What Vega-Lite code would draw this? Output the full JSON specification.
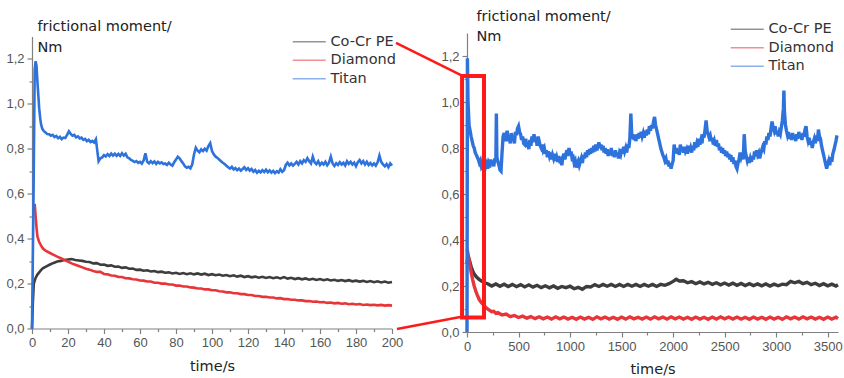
{
 "$schema": "https://vega.github.io/schema/vega-lite/v6.json",
 "background": "white",
 "padding": {"left": 5, "top": 8, "right": 2, "bottom": 4},
 "bounds": "flush",
 "center": true,
 "spacing": 75,
 "resolve": {"scale": {"color": "independent"}},
 "config": {
  "view": {"stroke": null},
  "axis": {"labelFont": "Liberation Sans", "labelFontSize": 13, "labelColor": "#555", "domainColor": "#808080", "domainWidth": 1.2, "tickColor": "#808080", "tickWidth": 1.2, "tickSize": 5, "labelPadding": 3, "grid": false, "titleFont": "DejaVu Sans", "titleFontSize": 14.5, "titleFontWeight": "normal", "titleColor": "#222", "labelFlush": false, "labelOverlap": false},
  "legend": {"labelFont": "DejaVu Sans", "labelFontSize": 14.5, "labelColor": "#333", "symbolType": "M-3,0H3", "symbolSize": 121, "symbolStrokeWidth": 1.5, "symbolOpacity": 0.55, "rowPadding": 3.5, "labelOffset": 14, "padding": 0}
 },
 "datasets": {
  "left": [
   {"s":"Co-Cr PE","t":0,"v":0},{"s":"Co-Cr PE","t":0.5,"v":0.12},{"s":"Co-Cr PE","t":1,"v":0.2},{"s":"Co-Cr PE","t":2,"v":0.225},{"s":"Co-Cr PE","t":3,"v":0.24},{"s":"Co-Cr PE","t":4,"v":0.25},{"s":"Co-Cr PE","t":5,"v":0.26},{"s":"Co-Cr PE","t":6,"v":0.268},{"s":"Co-Cr PE","t":8,"v":0.277},{"s":"Co-Cr PE","t":10,"v":0.285},{"s":"Co-Cr PE","t":12,"v":0.292},{"s":"Co-Cr PE","t":14,"v":0.298},{"s":"Co-Cr PE","t":16,"v":0.301},{"s":"Co-Cr PE","t":18,"v":0.305},{"s":"Co-Cr PE","t":20,"v":0.307},{"s":"Co-Cr PE","t":22,"v":0.309},{"s":"Co-Cr PE","t":24,"v":0.305},{"s":"Co-Cr PE","t":26,"v":0.303},{"s":"Co-Cr PE","t":28,"v":0.301},{"s":"Co-Cr PE","t":30,"v":0.297},{"s":"Co-Cr PE","t":32,"v":0.296},{"s":"Co-Cr PE","t":34,"v":0.29},{"s":"Co-Cr PE","t":36,"v":0.291},{"s":"Co-Cr PE","t":38,"v":0.284},{"s":"Co-Cr PE","t":40,"v":0.285},{"s":"Co-Cr PE","t":42,"v":0.279},{"s":"Co-Cr PE","t":44,"v":0.281},{"s":"Co-Cr PE","t":46,"v":0.275},{"s":"Co-Cr PE","t":48,"v":0.276},{"s":"Co-Cr PE","t":50,"v":0.27},{"s":"Co-Cr PE","t":52,"v":0.272},{"s":"Co-Cr PE","t":54,"v":0.266},{"s":"Co-Cr PE","t":56,"v":0.267},{"s":"Co-Cr PE","t":58,"v":0.261},{"s":"Co-Cr PE","t":60,"v":0.262},{"s":"Co-Cr PE","t":62,"v":0.257},{"s":"Co-Cr PE","t":64,"v":0.259},{"s":"Co-Cr PE","t":66,"v":0.254},{"s":"Co-Cr PE","t":68,"v":0.256},{"s":"Co-Cr PE","t":70,"v":0.251},{"s":"Co-Cr PE","t":72,"v":0.253},{"s":"Co-Cr PE","t":74,"v":0.248},{"s":"Co-Cr PE","t":76,"v":0.25},{"s":"Co-Cr PE","t":78,"v":0.245},{"s":"Co-Cr PE","t":80,"v":0.248},{"s":"Co-Cr PE","t":82,"v":0.243},{"s":"Co-Cr PE","t":84,"v":0.247},{"s":"Co-Cr PE","t":86,"v":0.242},{"s":"Co-Cr PE","t":88,"v":0.246},{"s":"Co-Cr PE","t":90,"v":0.241},{"s":"Co-Cr PE","t":92,"v":0.245},{"s":"Co-Cr PE","t":94,"v":0.24},{"s":"Co-Cr PE","t":96,"v":0.244},{"s":"Co-Cr PE","t":98,"v":0.238},{"s":"Co-Cr PE","t":100,"v":0.242},{"s":"Co-Cr PE","t":102,"v":0.237},{"s":"Co-Cr PE","t":104,"v":0.24},{"s":"Co-Cr PE","t":106,"v":0.235},{"s":"Co-Cr PE","t":108,"v":0.238},{"s":"Co-Cr PE","t":110,"v":0.233},{"s":"Co-Cr PE","t":112,"v":0.237},{"s":"Co-Cr PE","t":114,"v":0.231},{"s":"Co-Cr PE","t":116,"v":0.235},{"s":"Co-Cr PE","t":118,"v":0.229},{"s":"Co-Cr PE","t":120,"v":0.233},{"s":"Co-Cr PE","t":122,"v":0.228},{"s":"Co-Cr PE","t":124,"v":0.231},{"s":"Co-Cr PE","t":126,"v":0.226},{"s":"Co-Cr PE","t":128,"v":0.23},{"s":"Co-Cr PE","t":130,"v":0.225},{"s":"Co-Cr PE","t":132,"v":0.229},{"s":"Co-Cr PE","t":134,"v":0.224},{"s":"Co-Cr PE","t":136,"v":0.228},{"s":"Co-Cr PE","t":138,"v":0.223},{"s":"Co-Cr PE","t":140,"v":0.229},{"s":"Co-Cr PE","t":142,"v":0.222},{"s":"Co-Cr PE","t":144,"v":0.226},{"s":"Co-Cr PE","t":146,"v":0.22},{"s":"Co-Cr PE","t":148,"v":0.224},{"s":"Co-Cr PE","t":150,"v":0.219},{"s":"Co-Cr PE","t":152,"v":0.223},{"s":"Co-Cr PE","t":154,"v":0.217},{"s":"Co-Cr PE","t":156,"v":0.221},{"s":"Co-Cr PE","t":158,"v":0.216},{"s":"Co-Cr PE","t":160,"v":0.22},{"s":"Co-Cr PE","t":162,"v":0.215},{"s":"Co-Cr PE","t":164,"v":0.219},{"s":"Co-Cr PE","t":166,"v":0.214},{"s":"Co-Cr PE","t":168,"v":0.217},{"s":"Co-Cr PE","t":170,"v":0.212},{"s":"Co-Cr PE","t":172,"v":0.216},{"s":"Co-Cr PE","t":174,"v":0.211},{"s":"Co-Cr PE","t":176,"v":0.215},{"s":"Co-Cr PE","t":178,"v":0.21},{"s":"Co-Cr PE","t":180,"v":0.213},{"s":"Co-Cr PE","t":182,"v":0.209},{"s":"Co-Cr PE","t":184,"v":0.212},{"s":"Co-Cr PE","t":186,"v":0.207},{"s":"Co-Cr PE","t":188,"v":0.211},{"s":"Co-Cr PE","t":190,"v":0.206},{"s":"Co-Cr PE","t":192,"v":0.21},{"s":"Co-Cr PE","t":194,"v":0.205},{"s":"Co-Cr PE","t":196,"v":0.209},{"s":"Co-Cr PE","t":198,"v":0.204},{"s":"Co-Cr PE","t":200,"v":0.207},
   {"s":"Diamond","t":1.5,"v":0.555},{"s":"Diamond","t":2,"v":0.5},{"s":"Diamond","t":2.5,"v":0.45},{"s":"Diamond","t":3,"v":0.41},{"s":"Diamond","t":4,"v":0.385},{"s":"Diamond","t":5,"v":0.37},{"s":"Diamond","t":6,"v":0.357},{"s":"Diamond","t":7,"v":0.35},{"s":"Diamond","t":8,"v":0.344},{"s":"Diamond","t":10,"v":0.336},{"s":"Diamond","t":12,"v":0.328},{"s":"Diamond","t":14,"v":0.32},{"s":"Diamond","t":16,"v":0.313},{"s":"Diamond","t":18,"v":0.305},{"s":"Diamond","t":20,"v":0.298},{"s":"Diamond","t":22,"v":0.29},{"s":"Diamond","t":24,"v":0.284},{"s":"Diamond","t":26,"v":0.278},{"s":"Diamond","t":28,"v":0.272},{"s":"Diamond","t":30,"v":0.266},{"s":"Diamond","t":32,"v":0.262},{"s":"Diamond","t":34,"v":0.256},{"s":"Diamond","t":36,"v":0.252},{"s":"Diamond","t":38,"v":0.252},{"s":"Diamond","t":40,"v":0.243},{"s":"Diamond","t":42,"v":0.241},{"s":"Diamond","t":44,"v":0.236},{"s":"Diamond","t":46,"v":0.235},{"s":"Diamond","t":48,"v":0.23},{"s":"Diamond","t":50,"v":0.229},{"s":"Diamond","t":52,"v":0.224},{"s":"Diamond","t":54,"v":0.223},{"s":"Diamond","t":56,"v":0.219},{"s":"Diamond","t":58,"v":0.218},{"s":"Diamond","t":60,"v":0.214},{"s":"Diamond","t":62,"v":0.213},{"s":"Diamond","t":64,"v":0.209},{"s":"Diamond","t":66,"v":0.209},{"s":"Diamond","t":68,"v":0.204},{"s":"Diamond","t":70,"v":0.204},{"s":"Diamond","t":72,"v":0.2},{"s":"Diamond","t":74,"v":0.2},{"s":"Diamond","t":76,"v":0.196},{"s":"Diamond","t":78,"v":0.196},{"s":"Diamond","t":80,"v":0.191},{"s":"Diamond","t":82,"v":0.191},{"s":"Diamond","t":84,"v":0.187},{"s":"Diamond","t":86,"v":0.187},{"s":"Diamond","t":88,"v":0.183},{"s":"Diamond","t":90,"v":0.182},{"s":"Diamond","t":92,"v":0.178},{"s":"Diamond","t":94,"v":0.178},{"s":"Diamond","t":96,"v":0.174},{"s":"Diamond","t":98,"v":0.174},{"s":"Diamond","t":100,"v":0.17},{"s":"Diamond","t":102,"v":0.17},{"s":"Diamond","t":104,"v":0.166},{"s":"Diamond","t":106,"v":0.165},{"s":"Diamond","t":108,"v":0.161},{"s":"Diamond","t":110,"v":0.161},{"s":"Diamond","t":112,"v":0.157},{"s":"Diamond","t":114,"v":0.157},{"s":"Diamond","t":116,"v":0.153},{"s":"Diamond","t":118,"v":0.153},{"s":"Diamond","t":120,"v":0.149},{"s":"Diamond","t":122,"v":0.149},{"s":"Diamond","t":124,"v":0.145},{"s":"Diamond","t":126,"v":0.145},{"s":"Diamond","t":128,"v":0.141},{"s":"Diamond","t":130,"v":0.141},{"s":"Diamond","t":132,"v":0.138},{"s":"Diamond","t":134,"v":0.138},{"s":"Diamond","t":136,"v":0.134},{"s":"Diamond","t":138,"v":0.135},{"s":"Diamond","t":140,"v":0.131},{"s":"Diamond","t":142,"v":0.131},{"s":"Diamond","t":144,"v":0.128},{"s":"Diamond","t":146,"v":0.128},{"s":"Diamond","t":148,"v":0.125},{"s":"Diamond","t":150,"v":0.125},{"s":"Diamond","t":152,"v":0.122},{"s":"Diamond","t":154,"v":0.122},{"s":"Diamond","t":156,"v":0.119},{"s":"Diamond","t":158,"v":0.12},{"s":"Diamond","t":160,"v":0.117},{"s":"Diamond","t":162,"v":0.118},{"s":"Diamond","t":164,"v":0.114},{"s":"Diamond","t":166,"v":0.116},{"s":"Diamond","t":168,"v":0.112},{"s":"Diamond","t":170,"v":0.114},{"s":"Diamond","t":172,"v":0.11},{"s":"Diamond","t":174,"v":0.112},{"s":"Diamond","t":176,"v":0.108},{"s":"Diamond","t":178,"v":0.11},{"s":"Diamond","t":180,"v":0.107},{"s":"Diamond","t":182,"v":0.109},{"s":"Diamond","t":184,"v":0.105},{"s":"Diamond","t":186,"v":0.107},{"s":"Diamond","t":188,"v":0.104},{"s":"Diamond","t":190,"v":0.106},{"s":"Diamond","t":192,"v":0.103},{"s":"Diamond","t":194,"v":0.105},{"s":"Diamond","t":196,"v":0.102},{"s":"Diamond","t":198,"v":0.104},{"s":"Diamond","t":200,"v":0.102},
   {"s":"Titan","t":0,"v":0},{"s":"Titan","t":0.8,"v":0.55},{"s":"Titan","t":1.5,"v":1.15},{"s":"Titan","t":2,"v":1.19},{"s":"Titan","t":2.5,"v":1.17},{"s":"Titan","t":3,"v":1.1},{"s":"Titan","t":3.5,"v":1.04},{"s":"Titan","t":4,"v":0.98},{"s":"Titan","t":4.5,"v":0.94},{"s":"Titan","t":5,"v":0.91},{"s":"Titan","t":5.7,"v":0.89},{"s":"Titan","t":6.5,"v":0.88},{"s":"Titan","t":7.5,"v":0.872},{"s":"Titan","t":8.5,"v":0.866},{"s":"Titan","t":9.5,"v":0.865},{"s":"Titan","t":10.5,"v":0.858},{"s":"Titan","t":11.5,"v":0.862},{"s":"Titan","t":12.5,"v":0.852},{"s":"Titan","t":13.5,"v":0.857},{"s":"Titan","t":14.5,"v":0.847},{"s":"Titan","t":15.5,"v":0.853},{"s":"Titan","t":16.5,"v":0.843},{"s":"Titan","t":17.5,"v":0.85},{"s":"Titan","t":18.5,"v":0.848},{"s":"Titan","t":19.5,"v":0.862},{"s":"Titan","t":20.5,"v":0.878},{"s":"Titan","t":21.5,"v":0.866},{"s":"Titan","t":22.5,"v":0.858},{"s":"Titan","t":23.5,"v":0.862},{"s":"Titan","t":24.5,"v":0.851},{"s":"Titan","t":25.5,"v":0.855},{"s":"Titan","t":26.5,"v":0.846},{"s":"Titan","t":27.5,"v":0.85},{"s":"Titan","t":28.5,"v":0.84},{"s":"Titan","t":29.5,"v":0.844},{"s":"Titan","t":30.5,"v":0.834},{"s":"Titan","t":31.5,"v":0.84},{"s":"Titan","t":32.5,"v":0.83},{"s":"Titan","t":33.5,"v":0.835},{"s":"Titan","t":34.5,"v":0.828},{"s":"Titan","t":35.5,"v":0.842},{"s":"Titan","t":36.3,"v":0.79},{"s":"Titan","t":37,"v":0.745},{"s":"Titan","t":38,"v":0.758},{"s":"Titan","t":39,"v":0.762},{"s":"Titan","t":40,"v":0.772},{"s":"Titan","t":41,"v":0.766},{"s":"Titan","t":42,"v":0.776},{"s":"Titan","t":43,"v":0.768},{"s":"Titan","t":44,"v":0.779},{"s":"Titan","t":45,"v":0.77},{"s":"Titan","t":46,"v":0.778},{"s":"Titan","t":47,"v":0.769},{"s":"Titan","t":48,"v":0.777},{"s":"Titan","t":49,"v":0.768},{"s":"Titan","t":50,"v":0.78},{"s":"Titan","t":51,"v":0.77},{"s":"Titan","t":52,"v":0.778},{"s":"Titan","t":53,"v":0.762},{"s":"Titan","t":54,"v":0.758},{"s":"Titan","t":55,"v":0.75},{"s":"Titan","t":56,"v":0.746},{"s":"Titan","t":57,"v":0.741},{"s":"Titan","t":58,"v":0.745},{"s":"Titan","t":59,"v":0.737},{"s":"Titan","t":60,"v":0.742},{"s":"Titan","t":61,"v":0.734},{"s":"Titan","t":62,"v":0.748},{"s":"Titan","t":63,"v":0.78},{"s":"Titan","t":64,"v":0.742},{"s":"Titan","t":65,"v":0.735},{"s":"Titan","t":66,"v":0.745},{"s":"Titan","t":67,"v":0.736},{"s":"Titan","t":68,"v":0.744},{"s":"Titan","t":69,"v":0.733},{"s":"Titan","t":70,"v":0.742},{"s":"Titan","t":71,"v":0.735},{"s":"Titan","t":72,"v":0.74},{"s":"Titan","t":73,"v":0.732},{"s":"Titan","t":74,"v":0.735},{"s":"Titan","t":75,"v":0.728},{"s":"Titan","t":76,"v":0.738},{"s":"Titan","t":77,"v":0.73},{"s":"Titan","t":78,"v":0.725},{"s":"Titan","t":79,"v":0.74},{"s":"Titan","t":80,"v":0.752},{"s":"Titan","t":81,"v":0.765},{"s":"Titan","t":82,"v":0.758},{"s":"Titan","t":83,"v":0.745},{"s":"Titan","t":84,"v":0.735},{"s":"Titan","t":85,"v":0.722},{"s":"Titan","t":86,"v":0.716},{"s":"Titan","t":87,"v":0.72},{"s":"Titan","t":88,"v":0.713},{"s":"Titan","t":89,"v":0.73},{"s":"Titan","t":90,"v":0.775},{"s":"Titan","t":91,"v":0.805},{"s":"Titan","t":92,"v":0.792},{"s":"Titan","t":93,"v":0.785},{"s":"Titan","t":94,"v":0.798},{"s":"Titan","t":95,"v":0.79},{"s":"Titan","t":96,"v":0.8},{"s":"Titan","t":97,"v":0.792},{"s":"Titan","t":98,"v":0.812},{"s":"Titan","t":99,"v":0.825},{"s":"Titan","t":100,"v":0.79},{"s":"Titan","t":101,"v":0.775},{"s":"Titan","t":102,"v":0.765},{"s":"Titan","t":103,"v":0.76},{"s":"Titan","t":104,"v":0.752},{"s":"Titan","t":105,"v":0.745},{"s":"Titan","t":106,"v":0.738},{"s":"Titan","t":107,"v":0.732},{"s":"Titan","t":108,"v":0.725},{"s":"Titan","t":109,"v":0.718},{"s":"Titan","t":110,"v":0.712},{"s":"Titan","t":111,"v":0.72},{"s":"Titan","t":112,"v":0.708},{"s":"Titan","t":113,"v":0.714},{"s":"Titan","t":114,"v":0.705},{"s":"Titan","t":115,"v":0.712},{"s":"Titan","t":116,"v":0.703},{"s":"Titan","t":117,"v":0.71},{"s":"Titan","t":118,"v":0.718},{"s":"Titan","t":119,"v":0.706},{"s":"Titan","t":120,"v":0.714},{"s":"Titan","t":121,"v":0.703},{"s":"Titan","t":122,"v":0.71},{"s":"Titan","t":123,"v":0.698},{"s":"Titan","t":124,"v":0.706},{"s":"Titan","t":125,"v":0.694},{"s":"Titan","t":126,"v":0.702},{"s":"Titan","t":127,"v":0.695},{"s":"Titan","t":128,"v":0.705},{"s":"Titan","t":129,"v":0.697},{"s":"Titan","t":130,"v":0.707},{"s":"Titan","t":131,"v":0.696},{"s":"Titan","t":132,"v":0.704},{"s":"Titan","t":133,"v":0.694},{"s":"Titan","t":134,"v":0.702},{"s":"Titan","t":135,"v":0.692},{"s":"Titan","t":136,"v":0.7},{"s":"Titan","t":137,"v":0.694},{"s":"Titan","t":138,"v":0.709},{"s":"Titan","t":139,"v":0.698},{"s":"Titan","t":140,"v":0.705},{"s":"Titan","t":141,"v":0.728},{"s":"Titan","t":142,"v":0.738},{"s":"Titan","t":143,"v":0.726},{"s":"Titan","t":144,"v":0.735},{"s":"Titan","t":145,"v":0.725},{"s":"Titan","t":146,"v":0.733},{"s":"Titan","t":147,"v":0.742},{"s":"Titan","t":148,"v":0.73},{"s":"Titan","t":149,"v":0.745},{"s":"Titan","t":150,"v":0.735},{"s":"Titan","t":151,"v":0.75},{"s":"Titan","t":152,"v":0.742},{"s":"Titan","t":153,"v":0.758},{"s":"Titan","t":154,"v":0.745},{"s":"Titan","t":155,"v":0.735},{"s":"Titan","t":156,"v":0.765},{"s":"Titan","t":157,"v":0.74},{"s":"Titan","t":158,"v":0.732},{"s":"Titan","t":159,"v":0.745},{"s":"Titan","t":160,"v":0.728},{"s":"Titan","t":161,"v":0.738},{"s":"Titan","t":162,"v":0.73},{"s":"Titan","t":163,"v":0.742},{"s":"Titan","t":164,"v":0.727},{"s":"Titan","t":165,"v":0.738},{"s":"Titan","t":166,"v":0.765},{"s":"Titan","t":167,"v":0.735},{"s":"Titan","t":168,"v":0.724},{"s":"Titan","t":169,"v":0.736},{"s":"Titan","t":170,"v":0.728},{"s":"Titan","t":171,"v":0.74},{"s":"Titan","t":172,"v":0.73},{"s":"Titan","t":173,"v":0.738},{"s":"Titan","t":174,"v":0.726},{"s":"Titan","t":175,"v":0.745},{"s":"Titan","t":176,"v":0.733},{"s":"Titan","t":177,"v":0.742},{"s":"Titan","t":178,"v":0.73},{"s":"Titan","t":179,"v":0.738},{"s":"Titan","t":180,"v":0.722},{"s":"Titan","t":181,"v":0.74},{"s":"Titan","t":182,"v":0.75},{"s":"Titan","t":183,"v":0.735},{"s":"Titan","t":184,"v":0.745},{"s":"Titan","t":185,"v":0.73},{"s":"Titan","t":186,"v":0.742},{"s":"Titan","t":187,"v":0.728},{"s":"Titan","t":188,"v":0.737},{"s":"Titan","t":189,"v":0.726},{"s":"Titan","t":190,"v":0.735},{"s":"Titan","t":191,"v":0.725},{"s":"Titan","t":192,"v":0.74},{"s":"Titan","t":193,"v":0.77},{"s":"Titan","t":194,"v":0.742},{"s":"Titan","t":195,"v":0.73},{"s":"Titan","t":196,"v":0.722},{"s":"Titan","t":197,"v":0.732},{"s":"Titan","t":198,"v":0.718},{"s":"Titan","t":199,"v":0.735},{"s":"Titan","t":200,"v":0.725}
  ],
  "right": [
   {"s":"Co-Cr PE","t":0,"v":0.3},{"s":"Co-Cr PE","t":10,"v":0.33},{"s":"Co-Cr PE","t":25,"v":0.31},{"s":"Co-Cr PE","t":40,"v":0.285},{"s":"Co-Cr PE","t":55,"v":0.265},{"s":"Co-Cr PE","t":70,"v":0.252},{"s":"Co-Cr PE","t":85,"v":0.243},{"s":"Co-Cr PE","t":100,"v":0.236},{"s":"Co-Cr PE","t":120,"v":0.228},{"s":"Co-Cr PE","t":140,"v":0.222},{"s":"Co-Cr PE","t":160,"v":0.217},{"s":"Co-Cr PE","t":180,"v":0.213},{"s":"Co-Cr PE","t":200,"v":0.21},{"s":"Co-Cr PE","t":240,"v":0.2},{"s":"Co-Cr PE","t":280,"v":0.209},{"s":"Co-Cr PE","t":320,"v":0.199},{"s":"Co-Cr PE","t":360,"v":0.208},{"s":"Co-Cr PE","t":400,"v":0.198},{"s":"Co-Cr PE","t":440,"v":0.207},{"s":"Co-Cr PE","t":480,"v":0.197},{"s":"Co-Cr PE","t":520,"v":0.206},{"s":"Co-Cr PE","t":560,"v":0.196},{"s":"Co-Cr PE","t":600,"v":0.205},{"s":"Co-Cr PE","t":640,"v":0.195},{"s":"Co-Cr PE","t":680,"v":0.203},{"s":"Co-Cr PE","t":720,"v":0.193},{"s":"Co-Cr PE","t":760,"v":0.201},{"s":"Co-Cr PE","t":800,"v":0.192},{"s":"Co-Cr PE","t":840,"v":0.2},{"s":"Co-Cr PE","t":880,"v":0.19},{"s":"Co-Cr PE","t":920,"v":0.198},{"s":"Co-Cr PE","t":960,"v":0.193},{"s":"Co-Cr PE","t":1000,"v":0.199},{"s":"Co-Cr PE","t":1040,"v":0.188},{"s":"Co-Cr PE","t":1080,"v":0.194},{"s":"Co-Cr PE","t":1120,"v":0.186},{"s":"Co-Cr PE","t":1160,"v":0.198},{"s":"Co-Cr PE","t":1200,"v":0.196},{"s":"Co-Cr PE","t":1240,"v":0.206},{"s":"Co-Cr PE","t":1280,"v":0.198},{"s":"Co-Cr PE","t":1320,"v":0.207},{"s":"Co-Cr PE","t":1360,"v":0.199},{"s":"Co-Cr PE","t":1400,"v":0.207},{"s":"Co-Cr PE","t":1440,"v":0.198},{"s":"Co-Cr PE","t":1480,"v":0.207},{"s":"Co-Cr PE","t":1520,"v":0.198},{"s":"Co-Cr PE","t":1560,"v":0.207},{"s":"Co-Cr PE","t":1600,"v":0.199},{"s":"Co-Cr PE","t":1640,"v":0.207},{"s":"Co-Cr PE","t":1680,"v":0.198},{"s":"Co-Cr PE","t":1720,"v":0.207},{"s":"Co-Cr PE","t":1760,"v":0.199},{"s":"Co-Cr PE","t":1800,"v":0.207},{"s":"Co-Cr PE","t":1840,"v":0.198},{"s":"Co-Cr PE","t":1880,"v":0.207},{"s":"Co-Cr PE","t":1920,"v":0.203},{"s":"Co-Cr PE","t":1960,"v":0.21},{"s":"Co-Cr PE","t":2000,"v":0.22},{"s":"Co-Cr PE","t":2030,"v":0.229},{"s":"Co-Cr PE","t":2060,"v":0.222},{"s":"Co-Cr PE","t":2100,"v":0.223},{"s":"Co-Cr PE","t":2140,"v":0.214},{"s":"Co-Cr PE","t":2180,"v":0.219},{"s":"Co-Cr PE","t":2220,"v":0.21},{"s":"Co-Cr PE","t":2260,"v":0.218},{"s":"Co-Cr PE","t":2300,"v":0.209},{"s":"Co-Cr PE","t":2340,"v":0.216},{"s":"Co-Cr PE","t":2380,"v":0.207},{"s":"Co-Cr PE","t":2420,"v":0.214},{"s":"Co-Cr PE","t":2460,"v":0.205},{"s":"Co-Cr PE","t":2500,"v":0.213},{"s":"Co-Cr PE","t":2540,"v":0.204},{"s":"Co-Cr PE","t":2580,"v":0.212},{"s":"Co-Cr PE","t":2620,"v":0.203},{"s":"Co-Cr PE","t":2660,"v":0.211},{"s":"Co-Cr PE","t":2700,"v":0.202},{"s":"Co-Cr PE","t":2740,"v":0.21},{"s":"Co-Cr PE","t":2780,"v":0.202},{"s":"Co-Cr PE","t":2820,"v":0.209},{"s":"Co-Cr PE","t":2860,"v":0.201},{"s":"Co-Cr PE","t":2900,"v":0.209},{"s":"Co-Cr PE","t":2940,"v":0.2},{"s":"Co-Cr PE","t":2980,"v":0.208},{"s":"Co-Cr PE","t":3020,"v":0.201},{"s":"Co-Cr PE","t":3060,"v":0.208},{"s":"Co-Cr PE","t":3100,"v":0.206},{"s":"Co-Cr PE","t":3140,"v":0.22},{"s":"Co-Cr PE","t":3180,"v":0.214},{"s":"Co-Cr PE","t":3220,"v":0.22},{"s":"Co-Cr PE","t":3260,"v":0.21},{"s":"Co-Cr PE","t":3300,"v":0.216},{"s":"Co-Cr PE","t":3340,"v":0.206},{"s":"Co-Cr PE","t":3380,"v":0.212},{"s":"Co-Cr PE","t":3420,"v":0.202},{"s":"Co-Cr PE","t":3460,"v":0.21},{"s":"Co-Cr PE","t":3500,"v":0.201},{"s":"Co-Cr PE","t":3540,"v":0.208},{"s":"Co-Cr PE","t":3580,"v":0.2},{"s":"Co-Cr PE","t":3600,"v":0.205},
   {"s":"Diamond","t":0,"v":0.36},{"s":"Diamond","t":10,"v":0.34},{"s":"Diamond","t":25,"v":0.3},{"s":"Diamond","t":40,"v":0.26},{"s":"Diamond","t":55,"v":0.228},{"s":"Diamond","t":70,"v":0.2},{"s":"Diamond","t":85,"v":0.178},{"s":"Diamond","t":100,"v":0.16},{"s":"Diamond","t":120,"v":0.14},{"s":"Diamond","t":140,"v":0.128},{"s":"Diamond","t":160,"v":0.118},{"s":"Diamond","t":180,"v":0.108},{"s":"Diamond","t":200,"v":0.1},{"s":"Diamond","t":220,"v":0.094},{"s":"Diamond","t":240,"v":0.088},{"s":"Diamond","t":260,"v":0.09},{"s":"Diamond","t":280,"v":0.081},{"s":"Diamond","t":300,"v":0.084},{"s":"Diamond","t":340,"v":0.074},{"s":"Diamond","t":380,"v":0.078},{"s":"Diamond","t":420,"v":0.067},{"s":"Diamond","t":460,"v":0.072},{"s":"Diamond","t":500,"v":0.063},{"s":"Diamond","t":540,"v":0.069},{"s":"Diamond","t":580,"v":0.06},{"s":"Diamond","t":620,"v":0.067},{"s":"Diamond","t":660,"v":0.058},{"s":"Diamond","t":700,"v":0.066},{"s":"Diamond","t":740,"v":0.057},{"s":"Diamond","t":780,"v":0.065},{"s":"Diamond","t":820,"v":0.056},{"s":"Diamond","t":860,"v":0.066},{"s":"Diamond","t":900,"v":0.057},{"s":"Diamond","t":940,"v":0.065},{"s":"Diamond","t":980,"v":0.056},{"s":"Diamond","t":1020,"v":0.064},{"s":"Diamond","t":1060,"v":0.055},{"s":"Diamond","t":1100,"v":0.065},{"s":"Diamond","t":1140,"v":0.056},{"s":"Diamond","t":1180,"v":0.064},{"s":"Diamond","t":1220,"v":0.055},{"s":"Diamond","t":1260,"v":0.066},{"s":"Diamond","t":1300,"v":0.057},{"s":"Diamond","t":1340,"v":0.065},{"s":"Diamond","t":1380,"v":0.056},{"s":"Diamond","t":1420,"v":0.064},{"s":"Diamond","t":1460,"v":0.055},{"s":"Diamond","t":1500,"v":0.065},{"s":"Diamond","t":1540,"v":0.056},{"s":"Diamond","t":1580,"v":0.066},{"s":"Diamond","t":1620,"v":0.057},{"s":"Diamond","t":1660,"v":0.064},{"s":"Diamond","t":1700,"v":0.056},{"s":"Diamond","t":1740,"v":0.065},{"s":"Diamond","t":1780,"v":0.056},{"s":"Diamond","t":1820,"v":0.066},{"s":"Diamond","t":1860,"v":0.057},{"s":"Diamond","t":1900,"v":0.065},{"s":"Diamond","t":1940,"v":0.056},{"s":"Diamond","t":1980,"v":0.066},{"s":"Diamond","t":2020,"v":0.057},{"s":"Diamond","t":2060,"v":0.065},{"s":"Diamond","t":2100,"v":0.056},{"s":"Diamond","t":2140,"v":0.064},{"s":"Diamond","t":2180,"v":0.055},{"s":"Diamond","t":2220,"v":0.065},{"s":"Diamond","t":2260,"v":0.056},{"s":"Diamond","t":2300,"v":0.064},{"s":"Diamond","t":2340,"v":0.055},{"s":"Diamond","t":2380,"v":0.065},{"s":"Diamond","t":2420,"v":0.056},{"s":"Diamond","t":2460,"v":0.066},{"s":"Diamond","t":2500,"v":0.057},{"s":"Diamond","t":2540,"v":0.065},{"s":"Diamond","t":2580,"v":0.056},{"s":"Diamond","t":2620,"v":0.065},{"s":"Diamond","t":2660,"v":0.056},{"s":"Diamond","t":2700,"v":0.064},{"s":"Diamond","t":2740,"v":0.055},{"s":"Diamond","t":2780,"v":0.065},{"s":"Diamond","t":2820,"v":0.056},{"s":"Diamond","t":2860,"v":0.064},{"s":"Diamond","t":2900,"v":0.055},{"s":"Diamond","t":2940,"v":0.065},{"s":"Diamond","t":2980,"v":0.056},{"s":"Diamond","t":3020,"v":0.064},{"s":"Diamond","t":3060,"v":0.055},{"s":"Diamond","t":3100,"v":0.066},{"s":"Diamond","t":3140,"v":0.057},{"s":"Diamond","t":3180,"v":0.065},{"s":"Diamond","t":3220,"v":0.056},{"s":"Diamond","t":3260,"v":0.066},{"s":"Diamond","t":3300,"v":0.057},{"s":"Diamond","t":3340,"v":0.065},{"s":"Diamond","t":3380,"v":0.056},{"s":"Diamond","t":3420,"v":0.064},{"s":"Diamond","t":3460,"v":0.055},{"s":"Diamond","t":3500,"v":0.065},{"s":"Diamond","t":3540,"v":0.056},{"s":"Diamond","t":3580,"v":0.064},{"s":"Diamond","t":3600,"v":0.058},
   {"s":"Titan","t":0,"v":0},{"s":"Titan","t":4,"v":1.19},{"s":"Titan","t":10,"v":1.0},{"s":"Titan","t":20,"v":0.9},{"s":"Titan","t":30,"v":0.875},{"s":"Titan","t":40,"v":0.85},{"s":"Titan","t":50,"v":0.83},{"s":"Titan","t":60,"v":0.81},{"s":"Titan","t":70,"v":0.8},{"s":"Titan","t":80,"v":0.78},{"s":"Titan","t":90,"v":0.77},{"s":"Titan","t":100,"v":0.76},{"s":"Titan","t":110,"v":0.75},{"s":"Titan","t":120,"v":0.735},{"s":"Titan","t":130,"v":0.745},{"s":"Titan","t":140,"v":0.72},{"s":"Titan","t":150,"v":0.73},{"s":"Titan","t":160,"v":0.705},{"s":"Titan","t":170,"v":0.7},{"s":"Titan","t":180,"v":0.725},{"s":"Titan","t":190,"v":0.735},{"s":"Titan","t":200,"v":0.71},{"s":"Titan","t":210,"v":0.73},{"s":"Titan","t":220,"v":0.715},{"s":"Titan","t":230,"v":0.75},{"s":"Titan","t":240,"v":0.725},{"s":"Titan","t":250,"v":0.745},{"s":"Titan","t":260,"v":0.72},{"s":"Titan","t":270,"v":0.755},{"s":"Titan","t":280,"v":0.74},{"s":"Titan","t":285,"v":0.95},{"s":"Titan","t":290,"v":0.76},{"s":"Titan","t":300,"v":0.74},{"s":"Titan","t":310,"v":0.725},{"s":"Titan","t":320,"v":0.705},{"s":"Titan","t":330,"v":0.7},{"s":"Titan","t":340,"v":0.78},{"s":"Titan","t":350,"v":0.85},{"s":"Titan","t":360,"v":0.865},{"s":"Titan","t":370,"v":0.83},{"s":"Titan","t":380,"v":0.855},{"s":"Titan","t":390,"v":0.875},{"s":"Titan","t":400,"v":0.83},{"s":"Titan","t":410,"v":0.85},{"s":"Titan","t":420,"v":0.82},{"s":"Titan","t":430,"v":0.865},{"s":"Titan","t":440,"v":0.835},{"s":"Titan","t":450,"v":0.85},{"s":"Titan","t":460,"v":0.82},{"s":"Titan","t":470,"v":0.87},{"s":"Titan","t":480,"v":0.855},{"s":"Titan","t":490,"v":0.885},{"s":"Titan","t":500,"v":0.895},{"s":"Titan","t":510,"v":0.87},{"s":"Titan","t":520,"v":0.86},{"s":"Titan","t":530,"v":0.835},{"s":"Titan","t":540,"v":0.85},{"s":"Titan","t":550,"v":0.82},{"s":"Titan","t":560,"v":0.815},{"s":"Titan","t":570,"v":0.84},{"s":"Titan","t":580,"v":0.805},{"s":"Titan","t":590,"v":0.82},{"s":"Titan","t":600,"v":0.795},{"s":"Titan","t":610,"v":0.835},{"s":"Titan","t":620,"v":0.81},{"s":"Titan","t":630,"v":0.85},{"s":"Titan","t":640,"v":0.825},{"s":"Titan","t":650,"v":0.86},{"s":"Titan","t":660,"v":0.83},{"s":"Titan","t":670,"v":0.845},{"s":"Titan","t":680,"v":0.81},{"s":"Titan","t":690,"v":0.85},{"s":"Titan","t":700,"v":0.83},{"s":"Titan","t":710,"v":0.81},{"s":"Titan","t":720,"v":0.8},{"s":"Titan","t":730,"v":0.815},{"s":"Titan","t":740,"v":0.79},{"s":"Titan","t":750,"v":0.8},{"s":"Titan","t":760,"v":0.775},{"s":"Titan","t":770,"v":0.79},{"s":"Titan","t":780,"v":0.76},{"s":"Titan","t":790,"v":0.785},{"s":"Titan","t":800,"v":0.765},{"s":"Titan","t":810,"v":0.78},{"s":"Titan","t":820,"v":0.75},{"s":"Titan","t":830,"v":0.77},{"s":"Titan","t":840,"v":0.755},{"s":"Titan","t":850,"v":0.775},{"s":"Titan","t":860,"v":0.745},{"s":"Titan","t":870,"v":0.76},{"s":"Titan","t":880,"v":0.74},{"s":"Titan","t":890,"v":0.765},{"s":"Titan","t":900,"v":0.745},{"s":"Titan","t":910,"v":0.75},{"s":"Titan","t":920,"v":0.725},{"s":"Titan","t":930,"v":0.76},{"s":"Titan","t":940,"v":0.775},{"s":"Titan","t":950,"v":0.75},{"s":"Titan","t":960,"v":0.775},{"s":"Titan","t":970,"v":0.79},{"s":"Titan","t":980,"v":0.765},{"s":"Titan","t":990,"v":0.8},{"s":"Titan","t":1000,"v":0.77},{"s":"Titan","t":1010,"v":0.785},{"s":"Titan","t":1020,"v":0.755},{"s":"Titan","t":1030,"v":0.76},{"s":"Titan","t":1040,"v":0.735},{"s":"Titan","t":1050,"v":0.745},{"s":"Titan","t":1060,"v":0.715},{"s":"Titan","t":1070,"v":0.735},{"s":"Titan","t":1080,"v":0.745},{"s":"Titan","t":1090,"v":0.725},{"s":"Titan","t":1100,"v":0.74},{"s":"Titan","t":1110,"v":0.755},{"s":"Titan","t":1120,"v":0.735},{"s":"Titan","t":1130,"v":0.77},{"s":"Titan","t":1140,"v":0.755},{"s":"Titan","t":1150,"v":0.78},{"s":"Titan","t":1160,"v":0.76},{"s":"Titan","t":1170,"v":0.79},{"s":"Titan","t":1180,"v":0.77},{"s":"Titan","t":1190,"v":0.795},{"s":"Titan","t":1200,"v":0.775},{"s":"Titan","t":1210,"v":0.8},{"s":"Titan","t":1220,"v":0.78},{"s":"Titan","t":1230,"v":0.81},{"s":"Titan","t":1240,"v":0.785},{"s":"Titan","t":1250,"v":0.815},{"s":"Titan","t":1260,"v":0.79},{"s":"Titan","t":1270,"v":0.805},{"s":"Titan","t":1280,"v":0.825},{"s":"Titan","t":1290,"v":0.8},{"s":"Titan","t":1300,"v":0.815},{"s":"Titan","t":1310,"v":0.79},{"s":"Titan","t":1320,"v":0.81},{"s":"Titan","t":1330,"v":0.78},{"s":"Titan","t":1340,"v":0.8},{"s":"Titan","t":1350,"v":0.775},{"s":"Titan","t":1360,"v":0.795},{"s":"Titan","t":1370,"v":0.765},{"s":"Titan","t":1380,"v":0.79},{"s":"Titan","t":1390,"v":0.77},{"s":"Titan","t":1400,"v":0.8},{"s":"Titan","t":1410,"v":0.765},{"s":"Titan","t":1420,"v":0.785},{"s":"Titan","t":1430,"v":0.76},{"s":"Titan","t":1440,"v":0.79},{"s":"Titan","t":1450,"v":0.765},{"s":"Titan","t":1460,"v":0.78},{"s":"Titan","t":1470,"v":0.755},{"s":"Titan","t":1480,"v":0.78},{"s":"Titan","t":1490,"v":0.77},{"s":"Titan","t":1500,"v":0.795},{"s":"Titan","t":1510,"v":0.775},{"s":"Titan","t":1520,"v":0.805},{"s":"Titan","t":1530,"v":0.785},{"s":"Titan","t":1540,"v":0.8},{"s":"Titan","t":1550,"v":0.78},{"s":"Titan","t":1560,"v":0.815},{"s":"Titan","t":1570,"v":0.8},{"s":"Titan","t":1580,"v":0.84},{"s":"Titan","t":1590,"v":0.95},{"s":"Titan","t":1600,"v":0.84},{"s":"Titan","t":1610,"v":0.86},{"s":"Titan","t":1620,"v":0.835},{"s":"Titan","t":1630,"v":0.855},{"s":"Titan","t":1640,"v":0.83},{"s":"Titan","t":1650,"v":0.86},{"s":"Titan","t":1660,"v":0.84},{"s":"Titan","t":1670,"v":0.865},{"s":"Titan","t":1680,"v":0.845},{"s":"Titan","t":1690,"v":0.87},{"s":"Titan","t":1700,"v":0.85},{"s":"Titan","t":1710,"v":0.865},{"s":"Titan","t":1720,"v":0.845},{"s":"Titan","t":1730,"v":0.875},{"s":"Titan","t":1740,"v":0.855},{"s":"Titan","t":1750,"v":0.88},{"s":"Titan","t":1760,"v":0.86},{"s":"Titan","t":1770,"v":0.895},{"s":"Titan","t":1780,"v":0.875},{"s":"Titan","t":1790,"v":0.9},{"s":"Titan","t":1800,"v":0.885},{"s":"Titan","t":1810,"v":0.915},{"s":"Titan","t":1820,"v":0.935},{"s":"Titan","t":1830,"v":0.9},{"s":"Titan","t":1840,"v":0.88},{"s":"Titan","t":1850,"v":0.86},{"s":"Titan","t":1860,"v":0.84},{"s":"Titan","t":1870,"v":0.82},{"s":"Titan","t":1880,"v":0.8},{"s":"Titan","t":1890,"v":0.785},{"s":"Titan","t":1900,"v":0.77},{"s":"Titan","t":1910,"v":0.76},{"s":"Titan","t":1920,"v":0.745},{"s":"Titan","t":1930,"v":0.755},{"s":"Titan","t":1940,"v":0.73},{"s":"Titan","t":1950,"v":0.745},{"s":"Titan","t":1960,"v":0.72},{"s":"Titan","t":1970,"v":0.735},{"s":"Titan","t":1980,"v":0.71},{"s":"Titan","t":1990,"v":0.73},{"s":"Titan","t":2000,"v":0.745},{"s":"Titan","t":2010,"v":0.815},{"s":"Titan","t":2020,"v":0.785},{"s":"Titan","t":2030,"v":0.8},{"s":"Titan","t":2040,"v":0.775},{"s":"Titan","t":2050,"v":0.795},{"s":"Titan","t":2060,"v":0.77},{"s":"Titan","t":2070,"v":0.815},{"s":"Titan","t":2080,"v":0.79},{"s":"Titan","t":2090,"v":0.805},{"s":"Titan","t":2100,"v":0.78},{"s":"Titan","t":2110,"v":0.805},{"s":"Titan","t":2120,"v":0.785},{"s":"Titan","t":2130,"v":0.795},{"s":"Titan","t":2140,"v":0.775},{"s":"Titan","t":2150,"v":0.81},{"s":"Titan","t":2160,"v":0.785},{"s":"Titan","t":2170,"v":0.8},{"s":"Titan","t":2180,"v":0.78},{"s":"Titan","t":2190,"v":0.81},{"s":"Titan","t":2200,"v":0.79},{"s":"Titan","t":2210,"v":0.825},{"s":"Titan","t":2220,"v":0.8},{"s":"Titan","t":2230,"v":0.82},{"s":"Titan","t":2240,"v":0.805},{"s":"Titan","t":2250,"v":0.84},{"s":"Titan","t":2260,"v":0.815},{"s":"Titan","t":2270,"v":0.835},{"s":"Titan","t":2280,"v":0.82},{"s":"Titan","t":2290,"v":0.86},{"s":"Titan","t":2300,"v":0.845},{"s":"Titan","t":2310,"v":0.88},{"s":"Titan","t":2320,"v":0.92},{"s":"Titan","t":2330,"v":0.875},{"s":"Titan","t":2340,"v":0.86},{"s":"Titan","t":2350,"v":0.845},{"s":"Titan","t":2360,"v":0.855},{"s":"Titan","t":2370,"v":0.83},{"s":"Titan","t":2380,"v":0.845},{"s":"Titan","t":2390,"v":0.815},{"s":"Titan","t":2400,"v":0.83},{"s":"Titan","t":2410,"v":0.81},{"s":"Titan","t":2420,"v":0.835},{"s":"Titan","t":2430,"v":0.805},{"s":"Titan","t":2440,"v":0.82},{"s":"Titan","t":2450,"v":0.79},{"s":"Titan","t":2460,"v":0.805},{"s":"Titan","t":2470,"v":0.78},{"s":"Titan","t":2480,"v":0.8},{"s":"Titan","t":2490,"v":0.775},{"s":"Titan","t":2500,"v":0.79},{"s":"Titan","t":2510,"v":0.765},{"s":"Titan","t":2520,"v":0.785},{"s":"Titan","t":2530,"v":0.76},{"s":"Titan","t":2540,"v":0.775},{"s":"Titan","t":2550,"v":0.75},{"s":"Titan","t":2560,"v":0.77},{"s":"Titan","t":2570,"v":0.74},{"s":"Titan","t":2580,"v":0.76},{"s":"Titan","t":2590,"v":0.73},{"s":"Titan","t":2600,"v":0.745},{"s":"Titan","t":2610,"v":0.72},{"s":"Titan","t":2620,"v":0.71},{"s":"Titan","t":2630,"v":0.735},{"s":"Titan","t":2640,"v":0.75},{"s":"Titan","t":2650,"v":0.78},{"s":"Titan","t":2660,"v":0.76},{"s":"Titan","t":2670,"v":0.775},{"s":"Titan","t":2680,"v":0.75},{"s":"Titan","t":2690,"v":0.86},{"s":"Titan","t":2700,"v":0.785},{"s":"Titan","t":2710,"v":0.765},{"s":"Titan","t":2720,"v":0.745},{"s":"Titan","t":2730,"v":0.76},{"s":"Titan","t":2740,"v":0.735},{"s":"Titan","t":2750,"v":0.755},{"s":"Titan","t":2760,"v":0.74},{"s":"Titan","t":2770,"v":0.765},{"s":"Titan","t":2780,"v":0.75},{"s":"Titan","t":2790,"v":0.785},{"s":"Titan","t":2800,"v":0.765},{"s":"Titan","t":2810,"v":0.79},{"s":"Titan","t":2820,"v":0.77},{"s":"Titan","t":2830,"v":0.78},{"s":"Titan","t":2840,"v":0.755},{"s":"Titan","t":2850,"v":0.775},{"s":"Titan","t":2860,"v":0.79},{"s":"Titan","t":2870,"v":0.805},{"s":"Titan","t":2880,"v":0.795},{"s":"Titan","t":2890,"v":0.83},{"s":"Titan","t":2900,"v":0.815},{"s":"Titan","t":2910,"v":0.85},{"s":"Titan","t":2920,"v":0.835},{"s":"Titan","t":2930,"v":0.865},{"s":"Titan","t":2940,"v":0.85},{"s":"Titan","t":2950,"v":0.885},{"s":"Titan","t":2960,"v":0.915},{"s":"Titan","t":2970,"v":0.89},{"s":"Titan","t":2980,"v":0.875},{"s":"Titan","t":2990,"v":0.895},{"s":"Titan","t":3000,"v":0.86},{"s":"Titan","t":3010,"v":0.875},{"s":"Titan","t":3020,"v":0.85},{"s":"Titan","t":3030,"v":0.87},{"s":"Titan","t":3040,"v":0.86},{"s":"Titan","t":3050,"v":0.89},{"s":"Titan","t":3060,"v":0.92},{"s":"Titan","t":3070,"v":0.97},{"s":"Titan","t":3075,"v":1.05},{"s":"Titan","t":3080,"v":0.96},{"s":"Titan","t":3090,"v":0.9},{"s":"Titan","t":3100,"v":0.875},{"s":"Titan","t":3110,"v":0.855},{"s":"Titan","t":3120,"v":0.87},{"s":"Titan","t":3130,"v":0.84},{"s":"Titan","t":3140,"v":0.86},{"s":"Titan","t":3150,"v":0.835},{"s":"Titan","t":3160,"v":0.865},{"s":"Titan","t":3170,"v":0.84},{"s":"Titan","t":3180,"v":0.855},{"s":"Titan","t":3190,"v":0.83},{"s":"Titan","t":3200,"v":0.86},{"s":"Titan","t":3210,"v":0.84},{"s":"Titan","t":3220,"v":0.87},{"s":"Titan","t":3230,"v":0.845},{"s":"Titan","t":3240,"v":0.86},{"s":"Titan","t":3250,"v":0.835},{"s":"Titan","t":3260,"v":0.865},{"s":"Titan","t":3270,"v":0.85},{"s":"Titan","t":3280,"v":0.88},{"s":"Titan","t":3290,"v":0.895},{"s":"Titan","t":3300,"v":0.85},{"s":"Titan","t":3310,"v":0.83},{"s":"Titan","t":3320,"v":0.845},{"s":"Titan","t":3330,"v":0.815},{"s":"Titan","t":3340,"v":0.83},{"s":"Titan","t":3350,"v":0.8},{"s":"Titan","t":3360,"v":0.825},{"s":"Titan","t":3370,"v":0.84},{"s":"Titan","t":3380,"v":0.82},{"s":"Titan","t":3390,"v":0.855},{"s":"Titan","t":3400,"v":0.83},{"s":"Titan","t":3410,"v":0.88},{"s":"Titan","t":3420,"v":0.85},{"s":"Titan","t":3430,"v":0.84},{"s":"Titan","t":3440,"v":0.81},{"s":"Titan","t":3450,"v":0.79},{"s":"Titan","t":3460,"v":0.77},{"s":"Titan","t":3470,"v":0.75},{"s":"Titan","t":3480,"v":0.73},{"s":"Titan","t":3490,"v":0.71},{"s":"Titan","t":3500,"v":0.73},{"s":"Titan","t":3510,"v":0.745},{"s":"Titan","t":3520,"v":0.725},{"s":"Titan","t":3530,"v":0.76},{"s":"Titan","t":3540,"v":0.74},{"s":"Titan","t":3550,"v":0.775},{"s":"Titan","t":3560,"v":0.79},{"s":"Titan","t":3570,"v":0.81},{"s":"Titan","t":3580,"v":0.83},{"s":"Titan","t":3590,"v":0.855}
  ],
  "zoombox": [{"xa": -48, "xb": 165, "ya": 0.063, "yb": 1.113}],
  "connectors": [{"xa": -689, "ya": 1.257, "xb": -58, "yb": 1.117}, {"xa": -679, "ya": 0.013, "xb": -66, "yb": 0.065}]
 },
 "hconcat": [
  {
   "width": 360, "height": 292,
   "data": {"name": "left"},
   "resolve": {"axis": {"x": "independent", "y": "independent"}},
   "layer": [
    {"mark": {"type": "line", "clip": false, "strokeWidth": 2.6},
     "encoding": {
      "x": {"field": "t", "type": "quantitative", "scale": {"domain": [0, 200], "nice": false, "zero": false}, "axis": {"orient": "bottom", "values": [0, 20, 40, 60, 80, 100, 120, 140, 160, 180, 200], "title": "time/s", "titlePadding": 10}},
      "y": {"field": "v", "type": "quantitative", "scale": {"domain": [0, 1.3], "nice": false}, "axis": {"orient": "left", "values": [0, 0.2, 0.4, 0.6, 0.8, 1.0, 1.2], "labelExpr": "replace(format(datum.value, '.1f'), '.', ',')", "title": ["frictional moment/", "Nm"], "titleAngle": 0, "titleAlign": "left", "titleBaseline": "top", "titleX": 5, "titleY": -17, "titleLineHeight": 20.5}},
      "color": {"field": "s", "type": "nominal", "scale": {"domain": ["Co-Cr PE", "Diamond", "Titan"], "range": ["#3d3d3d", "#e8353a", "#2e72dc"]}, "legend": {"orient": "none", "legendX": 270, "legendY": -2, "title": null}}
     }},
    {"mark": {"type": "point", "opacity": 0},
     "encoding": {
      "x": {"field": "t", "type": "quantitative", "scale": {"domain": [0, 200], "nice": false, "zero": false}, "axis": {"orient": "bottom", "values": [10, 30, 50, 70, 90, 110, 130, 150, 170, 190], "labels": false, "domain": false, "tickSize": 3, "title": null}},
      "y": {"field": "v", "type": "quantitative", "scale": {"domain": [0, 1.3], "nice": false}, "axis": {"orient": "left", "values": [0.1, 0.3, 0.5, 0.7, 0.9, 1.1], "labels": false, "domain": false, "tickSize": 3, "title": null}}
     }}
   ]
  },
  {
   "width": 371, "height": 299,
   "resolve": {"axis": {"x": "independent", "y": "independent"}},
   "layer": [
    {"data": {"name": "right"},
     "mark": {"type": "line", "clip": false, "strokeWidth": 3.4},
     "encoding": {
      "x": {"field": "t", "type": "quantitative", "scale": {"domain": [0, 3600], "nice": false, "zero": false}, "axis": {"orient": "bottom", "values": [0, 500, 1000, 1500, 2000, 2500, 3000, 3500], "format": "d", "title": "time/s", "titlePadding": 9}},
      "y": {"field": "v", "type": "quantitative", "scale": {"domain": [0, 1.3], "nice": false}, "axis": {"orient": "left", "values": [0, 0.2, 0.4, 0.6, 0.8, 1.0, 1.2], "labelExpr": "replace(format(datum.value, '.1f'), '.', ',')", "title": ["frictional moment/", "Nm"], "titleAngle": 0, "titleAlign": "left", "titleBaseline": "top", "titleX": 9, "titleY": -24, "titleLineHeight": 20.5}},
      "color": {"field": "s", "type": "nominal", "scale": {"domain": ["Co-Cr PE", "Diamond", "Titan"], "range": ["#3d3d3d", "#e8353a", "#2e72dc"]}, "legend": {"orient": "none", "legendX": 273, "legendY": -11, "title": null}}
     }},
    {"data": {"name": "zoombox"},
     "mark": {"type": "rect", "fillOpacity": 0, "stroke": "#ff1a1a", "strokeWidth": 4, "clip": false},
     "encoding": {
      "x": {"field": "xa", "type": "quantitative", "scale": {"domain": [0, 3600], "nice": false, "zero": false}, "axis": {"orient": "bottom", "values": [250, 750, 1250, 1750, 2250, 2750, 3250], "labels": false, "domain": false, "tickSize": 3, "title": null}},
      "x2": {"field": "xb"},
      "y": {"field": "ya", "type": "quantitative", "scale": {"domain": [0, 1.3], "nice": false}, "axis": {"orient": "left", "values": [0.1, 0.3, 0.5, 0.7, 0.9, 1.1], "labels": false, "domain": false, "tickSize": 3, "title": null}},
      "y2": {"field": "yb"}
     }},
    {"data": {"name": "connectors"},
     "mark": {"type": "rule", "stroke": "#ff1a1a", "strokeWidth": 2.5, "clip": false},
     "encoding": {
      "x": {"field": "xa", "type": "quantitative", "scale": {"domain": [0, 3600], "nice": false, "zero": false}, "axis": null},
      "x2": {"field": "xb"},
      "y": {"field": "ya", "type": "quantitative", "scale": {"domain": [0, 1.3], "nice": false}, "axis": null},
      "y2": {"field": "yb"}
     }}
   ]
  }
 ]
}
